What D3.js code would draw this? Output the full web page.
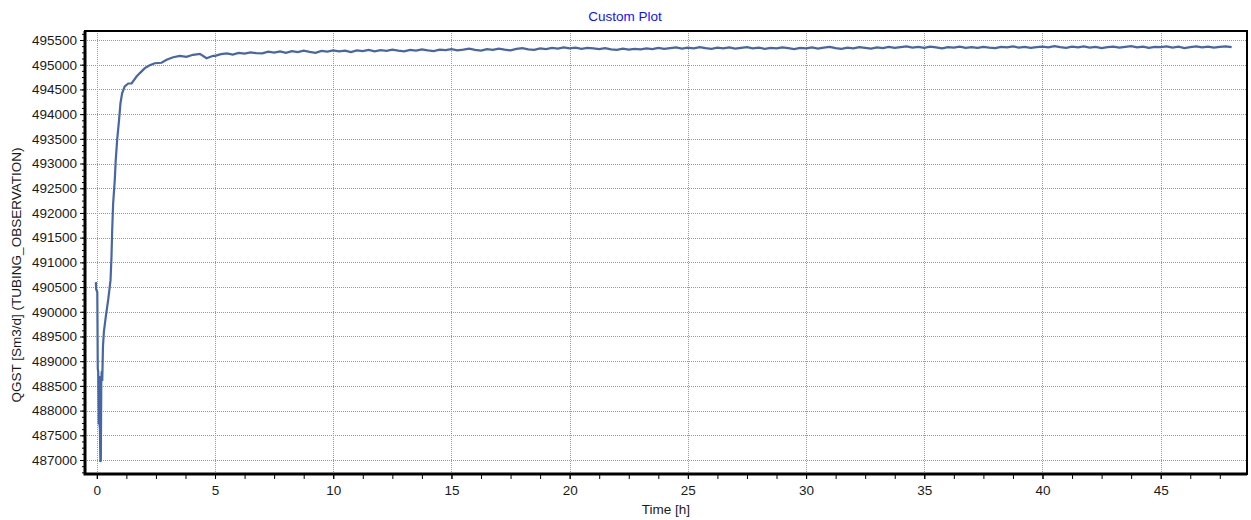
<!DOCTYPE html>
<html>
<head>
<meta charset="utf-8">
<script src="https://cdn.jsdelivr.net/npm/d3@7"></script>
<style>
  body { margin: 0; background: #fff; }
  svg text { font-family: "Liberation Sans", Arial, sans-serif; }
</style>
</head>
<body>
<svg id="chart" width="1251" height="520"></svg>
<script>
// start-up part of the run: time [h] and gas rate
const startTime = [-0.04, -0.03, 0.02, 0.04, 0.06, 0.08, 0.10, 0.12, 0.13, 0.15, 0.17, 0.19, 0.21, 0.23, 0.26, 0.30,
  0.38, 0.48, 0.58, 0.62, 0.65, 0.69, 0.76, 0.80, 0.86, 0.94, 1.00, 1.07, 1.18, 1.33, 1.47, 1.68, 1.82, 2.03, 2.24,
  2.45, 2.74, 2.95, 3.23, 3.51, 3.79, 4.07, 4.36, 4.64, 4.92];
const startRate = [490600, 490460, 490400, 488850, 488780, 487720, 488700, 487680, 487650, 486960, 487000, 488650,
  488800, 488600, 489300, 489600, 489900, 490240, 490640, 491110, 491650, 492190, 492670, 493070, 493480, 493880,
  494220, 494420, 494560, 494620, 494620, 494760, 494830, 494930, 494990, 495030, 495040, 495100, 495150, 495180,
  495160, 495200, 495220, 495130, 495180];

// plateau, read every quarter hour
const plateauTime = [
  5, 5.25, 5.5, 5.75, 6, 6.25, 6.5, 6.75, 7, 7.25, 7.5, 7.75, 8, 8.25, 8.5, 8.75,
  9, 9.25, 9.5, 9.75, 10, 10.25, 10.5, 10.75, 11, 11.25, 11.5, 11.75, 12, 12.25, 12.5, 12.75,
  13, 13.25, 13.5, 13.75, 14, 14.25, 14.5, 14.75, 15, 15.25, 15.5, 15.75, 16, 16.25, 16.5, 16.75,
  17, 17.25, 17.5, 17.75, 18, 18.25, 18.5, 18.75, 19, 19.25, 19.5, 19.75, 20, 20.25, 20.5, 20.75,
  21, 21.25, 21.5, 21.75, 22, 22.25, 22.5, 22.75, 23, 23.25, 23.5, 23.75, 24, 24.25, 24.5, 24.75,
  25, 25.25, 25.5, 25.75, 26, 26.25, 26.5, 26.75, 27, 27.25, 27.5, 27.75, 28, 28.25, 28.5, 28.75,
  29, 29.25, 29.5, 29.75, 30, 30.25, 30.5, 30.75, 31, 31.25, 31.5, 31.75, 32, 32.25, 32.5, 32.75,
  33, 33.25, 33.5, 33.75, 34, 34.25, 34.5, 34.75, 35, 35.25, 35.5, 35.75, 36, 36.25, 36.5, 36.75,
  37, 37.25, 37.5, 37.75, 38, 38.25, 38.5, 38.75, 39, 39.25, 39.5, 39.75, 40, 40.25, 40.5, 40.75,
  41, 41.25, 41.5, 41.75, 42, 42.25, 42.5, 42.75, 43, 43.25, 43.5, 43.75, 44, 44.25, 44.5, 44.75,
  45, 45.25, 45.5, 45.75, 46, 46.25, 46.5, 46.75, 47, 47.25, 47.5, 47.75, 48];
const plateauRate = [
  495180, 495215, 495230, 495205, 495240, 495225, 495250, 495235, 495230, 495265, 495245, 495270, 495240, 495275, 495255, 495285,
  495260, 495240, 495280, 495265, 495290, 495270, 495285, 495255, 495290, 495275, 495300, 495270, 495295, 495280, 495305, 495285,
  495270, 495300, 495285, 495310, 495290, 495275, 495305, 495295, 495315, 495290, 495305, 495325, 495300, 495285, 495315, 495300,
  495325, 495305, 495290, 495320, 495335, 495310, 495300, 495330, 495315, 495340, 495325, 495350, 495330, 495345, 495320, 495340,
  495330, 495315, 495335, 495310, 495300, 495325, 495305, 495320, 495310, 495330, 495315, 495340, 495320, 495335, 495350, 495325,
  495345, 495330, 495355, 495335, 495320, 495345, 495330, 495350, 495325, 495340, 495355, 495330, 495345, 495320, 495340, 495330,
  495350, 495335, 495315, 495340, 495330, 495350, 495325, 495345, 495360, 495335, 495320, 495345, 495330, 495355, 495340, 495325,
  495350, 495335, 495360, 495340, 495355, 495370, 495345, 495360, 495340, 495365, 495350, 495330, 495355, 495345, 495365, 495340,
  495355, 495340, 495360, 495345, 495335, 495360, 495350, 495370, 495345, 495360, 495340, 495355, 495365, 495350, 495375, 495355,
  495340, 495365, 495350, 495370, 495345, 495360, 495335, 495355, 495365, 495345, 495360, 495375, 495350, 495365, 495340, 495360,
  495355, 495370, 495345, 495365, 495335, 495355, 495370, 495350, 495365, 495345, 495360, 495370, 495355];

const xTicks = [0, 5, 10, 15, 20, 25, 30, 35, 40, 45];
const yTicks = [487000, 487500, 488000, 488500, 489000, 489500, 490000, 490500, 491000, 491500,
  492000, 492500, 493000, 493500, 494000, 494500, 495000, 495500];

const titleText = "Custom Plot";
const xLabel = "Time [h]";
const yLabel = "QGST [Sm3/d] (TUBING_OBSERVATION)";

const series = startTime.map((t, i) => ({t: t, v: startRate[i]}))
  .concat(plateauTime.map((t, i) => ({t: t, v: plateauRate[i]})));

// plot frame
const plotLeft = 85, plotRight = 1247, plotTop = 31, plotBottom = 474;

const svg = d3.select("#chart");

const x = d3.scaleLinear().domain([-0.5, 48.65]).range([plotLeft, plotRight]);
const y = d3.scaleLinear().domain([486717, 495682]).range([plotBottom, plotTop]);

// minor ticks every 1.25 h and every 125 Sm3/d
const xMinor = d3.range(0, 48.6, 1.25);
const yMinor = d3.range(486750, 495690, 125);

// grid
svg.append("g")
  .selectAll("line")
  .data(xTicks)
  .enter()
  .append("line")
  .attr("x1", d => Math.round(x(d)) + 0.5)
  .attr("x2", d => Math.round(x(d)) + 0.5)
  .attr("y1", plotTop)
  .attr("y2", plotBottom)
  .attr("stroke", "#999")
  .attr("stroke-dasharray", "1,1");

svg.append("g")
  .selectAll("line")
  .data(yTicks)
  .enter()
  .append("line")
  .attr("x1", plotLeft)
  .attr("x2", plotRight)
  .attr("y1", d => Math.round(y(d)) + 0.5)
  .attr("y2", d => Math.round(y(d)) + 0.5)
  .attr("stroke", "#999")
  .attr("stroke-dasharray", "1,1");

// axes
const xAxis = svg.append("g")
  .attr("transform", `translate(0,${plotBottom})`)
  .call(d3.axisBottom(x).tickValues(xTicks).tickSize(5).tickPadding(6).tickFormat(d3.format("d")));
svg.append("g")
  .attr("transform", `translate(0,${plotBottom})`)
  .call(d3.axisBottom(x).tickValues(xMinor).tickSize(5).tickFormat(""))
  .select(".domain").remove();

const yAxis = svg.append("g")
  .attr("transform", `translate(${plotLeft},0)`)
  .call(d3.axisLeft(y).tickValues(yTicks).tickSize(5).tickPadding(3).tickFormat(d3.format("d")));
svg.append("g")
  .attr("transform", `translate(${plotLeft},0)`)
  .call(d3.axisLeft(y).tickValues(yMinor).tickSize(3).tickFormat(""))
  .select(".domain").remove();

[xAxis, yAxis].forEach(a => {
  a.select(".domain").remove();
  a.selectAll("text").attr("font-size", "13.5px").attr("fill", "#1a1a1a")
    .attr("font-family", "'Liberation Sans', Arial, sans-serif");
});
svg.selectAll(".tick line").attr("stroke", "#000");

// data line
const line = d3.line().x(d => x(d.t)).y(d => y(d.v));
svg.append("path")
  .datum(series)
  .attr("d", line)
  .attr("fill", "none")
  .attr("stroke", "#4766a6")
  .attr("stroke-width", 2.2)
  .attr("stroke-linejoin", "miter");

// frame
svg.append("rect")
  .attr("x", plotLeft)
  .attr("y", plotTop)
  .attr("width", plotRight - plotLeft)
  .attr("height", plotBottom - plotTop)
  .attr("fill", "none")
  .attr("stroke", "#000")
  .attr("stroke-width", 2);
svg.append("path")
  .attr("d", `M${plotLeft},${plotTop} V${plotBottom} H${plotRight}`)
  .attr("fill", "none")
  .attr("stroke", "#000")
  .attr("stroke-width", 3);

// titles
svg.append("text")
  .attr("x", 625)
  .attr("y", 21)
  .attr("text-anchor", "middle")
  .attr("font-size", "13.5px")
  .attr("fill", "#1010ff")
  .text(titleText);

svg.append("text")
  .attr("x", (plotLeft + plotRight) / 2)
  .attr("y", 514)
  .attr("text-anchor", "middle")
  .attr("font-size", "13.5px")
  .attr("fill", "#1a1a1a")
  .text(xLabel);

svg.append("text")
  .attr("transform", "translate(21,275) rotate(-90)")
  .attr("text-anchor", "middle")
  .attr("font-size", "13.5px")
  .attr("fill", "#1a1a1a")
  .text(yLabel);
</script>
</body>
</html>
